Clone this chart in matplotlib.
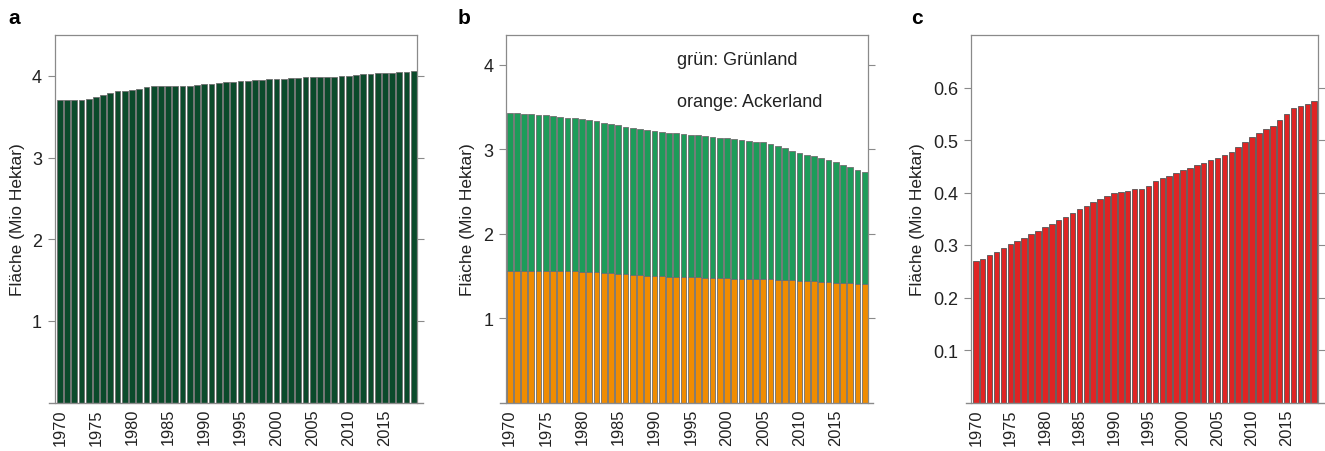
import matplotlib
matplotlib.use("Agg")
import matplotlib.pyplot as plt
from matplotlib.lines import Line2D

plt.rcParams['font.family'] = ['Liberation Sans', 'DejaVu Sans']

years = list(range(1970, 2020))
tick_years = [1970, 1975, 1980, 1985, 1990, 1995, 2000, 2005, 2010, 2015]

# Panel a: total agricultural area (Mio ha)
landwirtschaft = [3.71, 3.71, 3.71, 3.71, 3.72, 3.74, 3.77, 3.79, 3.81, 3.82,
                  3.83, 3.84, 3.86, 3.87, 3.87, 3.87, 3.88, 3.88, 3.88, 3.89,
                  3.90, 3.90, 3.91, 3.92, 3.93, 3.94, 3.94, 3.95, 3.95, 3.96,
                  3.96, 3.96, 3.97, 3.97, 3.98, 3.98, 3.98, 3.99, 3.99, 4.00,
                  4.00, 4.01, 4.02, 4.02, 4.03, 4.03, 4.04, 4.05, 4.05, 4.06]

# Panel b: Ackerland (orange) and Grünland (green), stacked
ackerland = [1.56, 1.56, 1.56, 1.56, 1.56, 1.56, 1.56, 1.56, 1.56, 1.555,
             1.55, 1.545, 1.54, 1.535, 1.53, 1.525, 1.52, 1.51, 1.505, 1.50,
             1.50, 1.495, 1.49, 1.49, 1.485, 1.48, 1.48, 1.475, 1.475, 1.47,
             1.47, 1.465, 1.465, 1.465, 1.465, 1.465, 1.46, 1.455, 1.45, 1.445,
             1.44, 1.435, 1.435, 1.43, 1.425, 1.42, 1.415, 1.41, 1.405, 1.40]
gruenland = [1.87, 1.865, 1.86, 1.85, 1.845, 1.84, 1.83, 1.82, 1.81, 1.81,
             1.80, 1.795, 1.79, 1.775, 1.77, 1.76, 1.745, 1.74, 1.735, 1.725,
             1.715, 1.71, 1.70, 1.695, 1.69, 1.69, 1.685, 1.675, 1.665, 1.665,
             1.655, 1.65, 1.64, 1.635, 1.62, 1.615, 1.60, 1.58, 1.56, 1.535,
             1.515, 1.50, 1.48, 1.47, 1.445, 1.425, 1.395, 1.375, 1.345, 1.33]

# Panel c: settlement area (Mio ha)
siedlung = [0.269, 0.274, 0.281, 0.287, 0.295, 0.301, 0.308, 0.314, 0.321, 0.327,
            0.334, 0.340, 0.347, 0.354, 0.361, 0.368, 0.375, 0.381, 0.388, 0.394,
            0.400, 0.401, 0.402, 0.406, 0.407, 0.413, 0.421, 0.428, 0.432, 0.437,
            0.442, 0.446, 0.452, 0.457, 0.461, 0.466, 0.471, 0.477, 0.487, 0.497,
            0.506, 0.513, 0.521, 0.527, 0.539, 0.549, 0.561, 0.564, 0.568, 0.574]

ylabel = "Fläche (Mio Hektar)"
spine_col = '#8a8a8a'
text_col = '#222222'

fig = plt.figure(figsize=(13.25, 4.52), dpi=100)
H = 452.0
W = 1325.0
bottom = 1 - 403.5 / H
height = (403.5 - 36) / H

ax_a = fig.add_axes([54.5 / W, bottom, (417 - 54.5) / W, height])
ax_b = fig.add_axes([505.7 / W, bottom, (867.7 - 505.7) / W, height])
ax_c = fig.add_axes([971 / W, bottom, (1318.3 - 971) / W, height])

x = list(range(len(years)))
bw = 0.8
ec = '#6e6e6e'
lw = 0.6

ax_a.bar(x, landwirtschaft, width=bw, color='#0b4a2b', edgecolor=ec, linewidth=lw)
ax_b.bar(x, ackerland, width=bw, color='#f08c00', edgecolor=ec, linewidth=lw)
ax_b.bar(x, gruenland, width=bw, bottom=ackerland, color='#1d9c5a', edgecolor=ec, linewidth=lw)
ax_c.bar(x, siedlung, width=bw, color='#e02424', edgecolor='#555555', linewidth=lw)

ax_a.set_xlim(-0.73, 49.44)
ax_b.set_xlim(-0.54, 49.42)
ax_c.set_xlim(-0.69, 49.59)
ax_a.set_ylim(0, 4.5)
ax_b.set_ylim(0, 4.35)
ax_c.set_ylim(0, 0.70)

ax_a.set_yticks([1, 2, 3, 4])
ax_b.set_yticks([1, 2, 3, 4])
ax_c.set_yticks([0.1, 0.2, 0.3, 0.4, 0.5, 0.6])
ax_c.set_yticklabels(['0.1', '0.2', '0.3', '0.4', '0.5', '0.6'])

tick_idx = [years.index(y) for y in tick_years]
for ax, lab, lx, lblx in [(ax_a, 'a', 8, -0.081), (ax_b, 'b', 458, -0.085), (ax_c, 'c', 911, -0.132)]:
    ax.set_xticks(tick_idx)
    ax.set_xticklabels([str(y) for y in tick_years], rotation=90, fontsize=11.8, color=text_col)
    ax.tick_params(axis='x', length=0, pad=4)
    ax.tick_params(axis='y', which='both', left=True, right=True, length=5, width=0.8,
                   color=spine_col, labelsize=13, labelcolor=text_col, pad=4, direction='out')
    for s in ['left', 'right', 'top']:
        ax.spines[s].set_color(spine_col)
        ax.spines[s].set_linewidth(0.9)
    ax.spines['bottom'].set_visible(False)
    ext = 5.5 / (ax.get_position().width * W)
    ax.add_line(Line2D([-ext, 1 + ext], [0, 0], transform=ax.transAxes,
                       color=spine_col, linewidth=1.0, clip_on=False))
    ax.set_ylabel(ylabel, fontsize=12.5, color=text_col)
    ax.yaxis.set_label_coords(lblx, 0.5)
    fig.text(lx / W, 1 - 18 / H, lab, fontsize=15, fontweight='bold', va='center', ha='left')

ax_b.text(0.472, 0.932, "grün: Grünland", transform=ax_b.transAxes, fontsize=13,
          color=text_col, va='center', ha='left')
ax_b.text(0.472, 0.818, "orange: Ackerland", transform=ax_b.transAxes, fontsize=13,
          color=text_col, va='center', ha='left')

fig.savefig('out.png', dpi=100)
